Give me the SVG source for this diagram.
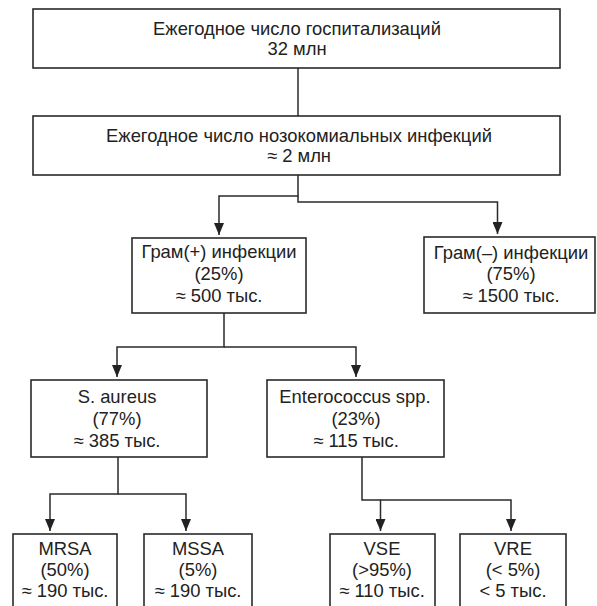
<svg xmlns="http://www.w3.org/2000/svg" width="597" height="606" viewBox="0 0 597 606">
<style>
.box{fill:#fff;stroke:#2a2a2a;stroke-width:1.6}
.t{font-family:"Liberation Sans",Arial,sans-serif;font-size:18.4px;fill:#222;text-anchor:middle}
.c{fill:none;stroke:#2a2a2a;stroke-width:1.5}
</style>
<defs>
<marker id="ah" markerWidth="12" markerHeight="10" refX="12" refY="5" orient="auto" markerUnits="userSpaceOnUse" viewBox="0 0 12 10">
<path d="M0,0 L12,5 L0,10 Z" fill="#222"/>
</marker>
</defs>
<rect width="597" height="606" fill="#fff"/>
<g id="connectors">
<path class="c" d="M298,68 V116"/>
<path class="c" d="M298,175 V196 H219 V235" marker-end="url(#ah)"/>
<path class="c" d="M298,196 V202 H497.5 V234" marker-end="url(#ah)"/>
<path class="c" d="M224,313 V347 H117 V377" marker-end="url(#ah)"/>
<path class="c" d="M224,347 H356 V377" marker-end="url(#ah)"/>
<path class="c" d="M118,457 V494 H50 V531" marker-end="url(#ah)"/>
<path class="c" d="M118,494 H186 V531" marker-end="url(#ah)"/>
<path class="c" d="M362,457 V500 H380.5 V531" marker-end="url(#ah)"/>
<path class="c" d="M380.5,500 H511 V531" marker-end="url(#ah)"/>
</g>
<g id="n1">
<rect class="box" x="33" y="9" width="527" height="59"/>
<text class="t" x="297" y="35">Ежегодное число госпитализаций</text>
<text class="t" x="297" y="55">32 млн</text>
</g>
<g id="n2">
<rect class="box" x="33" y="116" width="527" height="59"/>
<text class="t" x="299" y="142">Ежегодное число нозокомиальных инфекций</text>
<text class="t" x="299" y="162">≈ 2 млн</text>
</g>
<g id="n3">
<rect class="box" x="132" y="238" width="174" height="75"/>
<text class="t" x="219" y="258">Грам(+) инфекции</text>
<text class="t" x="219" y="280">(25%)</text>
<text class="t" x="219" y="302">≈ 500 тыс.</text>
</g>
<g id="n4">
<rect class="box" x="424" y="237" width="171" height="76"/>
<text class="t" x="511" y="259">Грам(–) инфекции</text>
<text class="t" x="511" y="280">(75%)</text>
<text class="t" x="511" y="302">≈ 1500 тыс.</text>
</g>
<g id="n5">
<rect class="box" x="31" y="380" width="176" height="77"/>
<text class="t" x="117" y="403">S. aureus</text>
<text class="t" x="117" y="425">(77%)</text>
<text class="t" x="117" y="447">≈ 385 тыс.</text>
</g>
<g id="n6">
<rect class="box" x="267" y="380" width="177" height="77"/>
<text class="t" x="355" y="403">Enterococcus spp.</text>
<text class="t" x="356" y="425">(23%)</text>
<text class="t" x="356" y="447">≈ 115 тыс.</text>
</g>
<g id="n7">
<rect class="box" x="13" y="534" width="104" height="80"/>
<text class="t" x="65" y="555">MRSA</text>
<text class="t" x="65" y="576">(50%)</text>
<text class="t" x="65" y="597">≈ 190 тыс.</text>
</g>
<g id="n8">
<rect class="box" x="144" y="534" width="108" height="80"/>
<text class="t" x="198" y="555">MSSA</text>
<text class="t" x="198" y="576">(5%)</text>
<text class="t" x="198" y="597">≈ 190 тыс.</text>
</g>
<g id="n9">
<rect class="box" x="330" y="534" width="105" height="80"/>
<text class="t" x="382" y="555">VSE</text>
<text class="t" x="382" y="576">(&gt;95%)</text>
<text class="t" x="382" y="597">≈ 110 тыс.</text>
</g>
<g id="n10">
<rect class="box" x="460" y="534" width="106" height="80"/>
<text class="t" x="513" y="555">VRE</text>
<text class="t" x="513" y="576">(&lt; 5%)</text>
<text class="t" x="513" y="597">&lt; 5 тыс.</text>
</g>
</svg>
